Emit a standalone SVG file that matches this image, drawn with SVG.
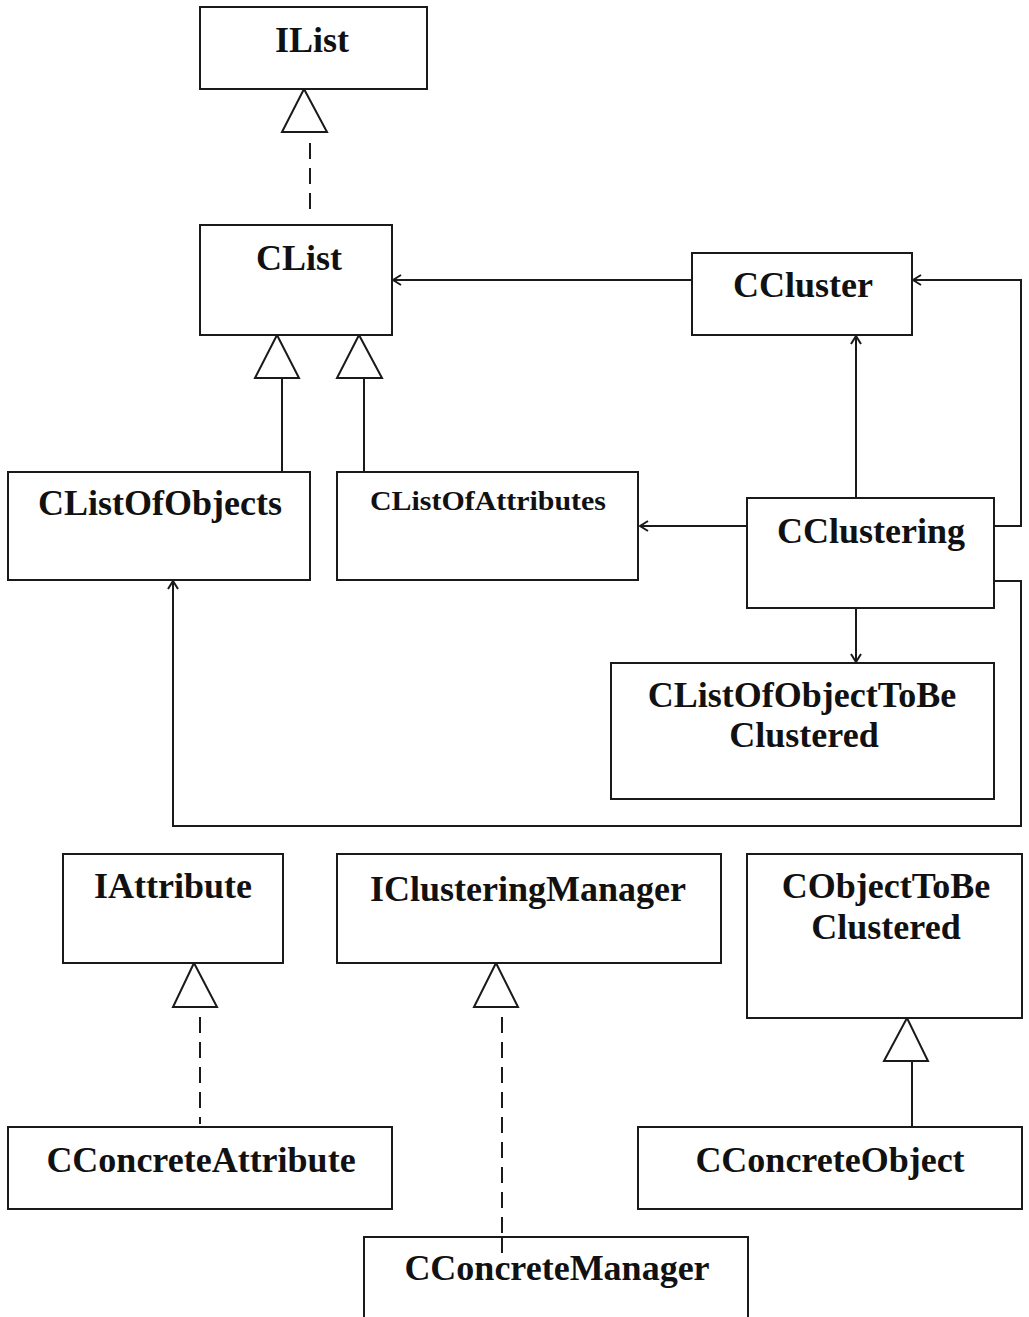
<svg xmlns="http://www.w3.org/2000/svg" width="1029" height="1317" viewBox="0 0 1029 1317">
  <style>
    .box { fill: #ffffff; stroke: #1a1a1a; stroke-width: 2; }
    .lbl { font-family: "Liberation Serif", "Times New Roman", serif; font-weight: bold; font-size: 36px; fill: #111111; text-anchor: middle; }
    .small { font-size: 28px; }
    .line { fill: none; stroke: #1a1a1a; stroke-width: 2; }
    .dash { stroke-dasharray: 16 9; }
    .arrow { marker-end: url(#open); }
    .tri { fill: #ffffff; stroke: #1a1a1a; stroke-width: 2; stroke-linejoin: miter; }
  </style>
  <defs>
    <!-- open association arrowhead -->
    <marker id="open" viewBox="0 0 10 12" refX="9" refY="6" markerWidth="10" markerHeight="12" markerUnits="userSpaceOnUse" orient="auto">
      <path d="M1,1 L9,6 L1,11" fill="none" stroke="#1a1a1a" stroke-width="2"/>
    </marker>
  </defs>
  <rect width="1029" height="1317" fill="#ffffff"/>

  <!-- connectors -->
  <g id="connectors">
    <!-- CList realizes IList -->
    <line class="line dash" x1="310" y1="143" x2="310" y2="212"/>
    <polygon class="tri" points="304,89 282,132 327,132"/>

    <!-- CListOfObjects / CListOfAttributes inherit CList -->
    <line class="line" x1="282" y1="378" x2="282" y2="476"/>
    <polygon class="tri" points="277,335 255,378 299,378"/>
    <line class="line" x1="364" y1="378" x2="364" y2="476"/>
    <polygon class="tri" points="359,335 337,378 382,378"/>

    <!-- CCluster uses CList -->
    <line class="line arrow" x1="692" y1="280" x2="393" y2="280"/>
    <!-- CClustering associations -->
    <line class="line arrow" x1="856" y1="498" x2="856" y2="336"/>
    <polyline class="line arrow" points="994,526 1021,526 1021,280 913,280"/>
    <line class="line arrow" x1="747" y1="526" x2="640" y2="526"/>
    <line class="line arrow" x1="856" y1="608" x2="856" y2="662"/>
    <polyline class="line arrow" points="994,581 1021,581 1021,826 173,826 173,581"/>

    <!-- CConcreteAttribute realizes IAttribute -->
    <line class="line dash" x1="200" y1="1017" x2="200" y2="1124"/>
    <polygon class="tri" points="194,963 173,1007 217,1007"/>

    <!-- CConcreteManager realizes IClusteringManager -->
    <line class="line dash" x1="502" y1="1017" x2="502" y2="1257"/>
    <polygon class="tri" points="496,963 474,1007 518,1007"/>

    <!-- CConcreteObject inherits CObjectToBeClustered -->
    <line class="line" x1="912" y1="1061" x2="912" y2="1128"/>
    <polygon class="tri" points="907,1018 884,1061 928,1061"/>
  </g>

  <g id="IList">
    <rect class="box" x="200" y="7" width="227" height="82"/>
    <text class="lbl" x="312" y="52">IList</text>
  </g>
  <g id="CList">
    <rect class="box" x="200" y="225" width="192" height="110"/>
    <text class="lbl" x="299" y="270">CList</text>
  </g>
  <g id="CCluster">
    <rect class="box" x="692" y="253" width="220" height="82"/>
    <text class="lbl" x="803" y="297">CCluster</text>
  </g>
  <g id="CListOfObjects">
    <rect class="box" x="8" y="472" width="302" height="108"/>
    <text class="lbl" x="160" y="515">CListOfObjects</text>
  </g>
  <g id="CListOfAttributes">
    <rect class="box" x="337" y="472" width="301" height="108"/>
    <text class="lbl small" x="488" y="510" textLength="236" lengthAdjust="spacingAndGlyphs">CListOfAttributes</text>
  </g>
  <g id="CClustering">
    <rect class="box" x="747" y="498" width="247" height="110"/>
    <text class="lbl" x="871" y="543">CClustering</text>
  </g>
  <g id="CListOfObjectToBeClustered">
    <rect class="box" x="611" y="663" width="383" height="136"/>
    <text class="lbl" x="802" y="707">CListOfObjectToBe</text>
    <text class="lbl" x="804" y="747">Clustered</text>
  </g>
  <g id="IAttribute">
    <rect class="box" x="63" y="854" width="220" height="109"/>
    <text class="lbl" x="173" y="898">IAttribute</text>
  </g>
  <g id="IClusteringManager">
    <rect class="box" x="337" y="854" width="384" height="109"/>
    <text class="lbl" x="528" y="901">IClusteringManager</text>
  </g>
  <g id="CObjectToBeClustered">
    <rect class="box" x="747" y="854" width="275" height="164"/>
    <text class="lbl" x="886" y="898">CObjectToBe</text>
    <text class="lbl" x="886" y="939">Clustered</text>
  </g>
  <g id="CConcreteAttribute">
    <rect class="box" x="8" y="1127" width="384" height="82"/>
    <text class="lbl" x="201" y="1172">CConcreteAttribute</text>
  </g>
  <g id="CConcreteObject">
    <rect class="box" x="638" y="1127" width="384" height="82"/>
    <text class="lbl" x="830" y="1172">CConcreteObject</text>
  </g>
  <g id="CConcreteManager">
    <rect class="box" x="364" y="1237" width="384" height="100"/>
    <line class="line dash" x1="502" y1="1237" x2="502" y2="1257"/>
    <text class="lbl" x="557" y="1280">CConcreteManager</text>
  </g>
</svg>
